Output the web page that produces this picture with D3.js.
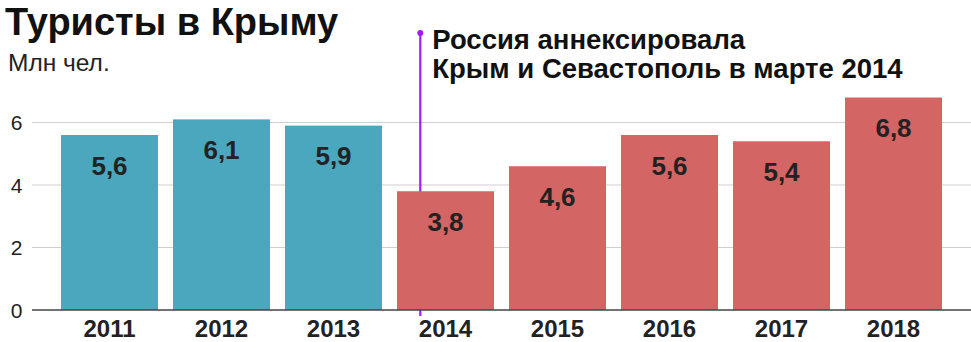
<!DOCTYPE html>
<html><head><meta charset="utf-8">
<script src="https://cdn.jsdelivr.net/npm/d3@7"></script>
<style>
html,body{margin:0;padding:0;background:#fff;}
svg{display:block;font-family:"Liberation Sans",Arial,sans-serif;}
</style></head>
<body>
<svg id="c" width="971" height="342"></svg>
<script>
const years = ["2011","2012","2013","2014","2015","2016","2017","2018"];
const values = [5.6, 6.1, 5.9, 3.8, 4.6, 5.6, 5.4, 6.8];
const valueLabels = ["5,6","6,1","5,9","3,8","4,6","5,6","5,4","6,8"];
const yTicks = [0, 2, 4, 6];
const annexYear = "2014";
const annexFraction = 0.24; // March within the year band
const annotationLines = ["Россия аннексировала", "Крым и Севастополь в марте 2014"];
const title = "Туристы в Крыму";
const unitLabel = "Млн чел.";

const W = 971, H = 342;
const svg = d3.select("#c");
const x = d3.scaleBand().domain(years).range([53.5, 949.5]).paddingInner(0.134).paddingOuter(0.067);
const y = d3.scaleLinear().domain([0, 6]).range([310, 122.5]);
const colorFor = yr => (+yr < 2014 ? "#4aa7be" : "#d46565");

// gridlines
svg.append("g").selectAll("line").data(yTicks.filter(d => d !== 0)).join("line")
  .attr("x1", 32).attr("x2", W).attr("y1", d => y(d)).attr("y2", d => y(d))
  .attr("stroke", "#cfcfcf").attr("stroke-width", 1.2);

// y tick labels
svg.append("g").selectAll("text").data(yTicks).join("text")
  .attr("x", 22.5).attr("y", d => y(d)).attr("dy", "0.36em")
  .attr("text-anchor", "end").attr("font-size", 21).attr("fill", "#222")
  .text(d => d);

// annotation line (behind bars)
const ax = x(annexYear) + annexFraction * x.bandwidth();
svg.append("line").attr("x1", ax).attr("x2", ax).attr("y1", 33).attr("y2", y(0) + 6)
  .attr("stroke", "#a41cf2").attr("stroke-width", 2.2);
svg.append("circle").attr("cx", ax).attr("cy", 33).attr("r", 3).attr("fill", "#a41cf2");

// bars
svg.append("g").selectAll("rect").data(values).join("rect")
  .attr("x", (d, i) => x(years[i])).attr("width", x.bandwidth())
  .attr("y", d => y(d)).attr("height", d => y(0) - y(d))
  .attr("fill", (d, i) => colorFor(years[i]));

// baseline
svg.append("line").attr("x1", 32).attr("x2", W).attr("y1", y(0)).attr("y2", y(0))
  .attr("stroke", "#444").attr("stroke-width", 1.3);

// value labels
svg.append("g").selectAll("text").data(values).join("text")
  .attr("x", (d, i) => x(years[i]) + x.bandwidth() / 2)
  .attr("y", d => y(d) + 39.5)
  .attr("text-anchor", "middle").attr("font-size", 26).attr("font-weight", "bold")
  .attr("fill", "#222").text((d, i) => valueLabels[i]);

// x labels
svg.append("g").selectAll("text").data(years).join("text")
  .attr("x", d => x(d) + x.bandwidth() / 2).attr("y", 337)
  .attr("text-anchor", "middle").attr("font-size", 24).attr("font-weight", "bold")
  .attr("fill", "#222").text(d => d);

// title & unit
svg.append("text").attr("x", 5).attr("y", 34.5).attr("font-size", 38).attr("font-weight", "bold")
  .attr("fill", "#111").text(title);
svg.append("text").attr("x", 8).attr("y", 71).attr("font-size", 24.5).attr("fill", "#222").text(unitLabel);

// annotation text
svg.append("g").selectAll("text").data(annotationLines).join("text")
  .attr("x", ax + 12).attr("y", (d, i) => 49 + i * 28.5)
  .attr("font-size", 27.5).attr("font-weight", "bold").attr("fill", "#111")
  .text(d => d);
</script>
</body></html>
